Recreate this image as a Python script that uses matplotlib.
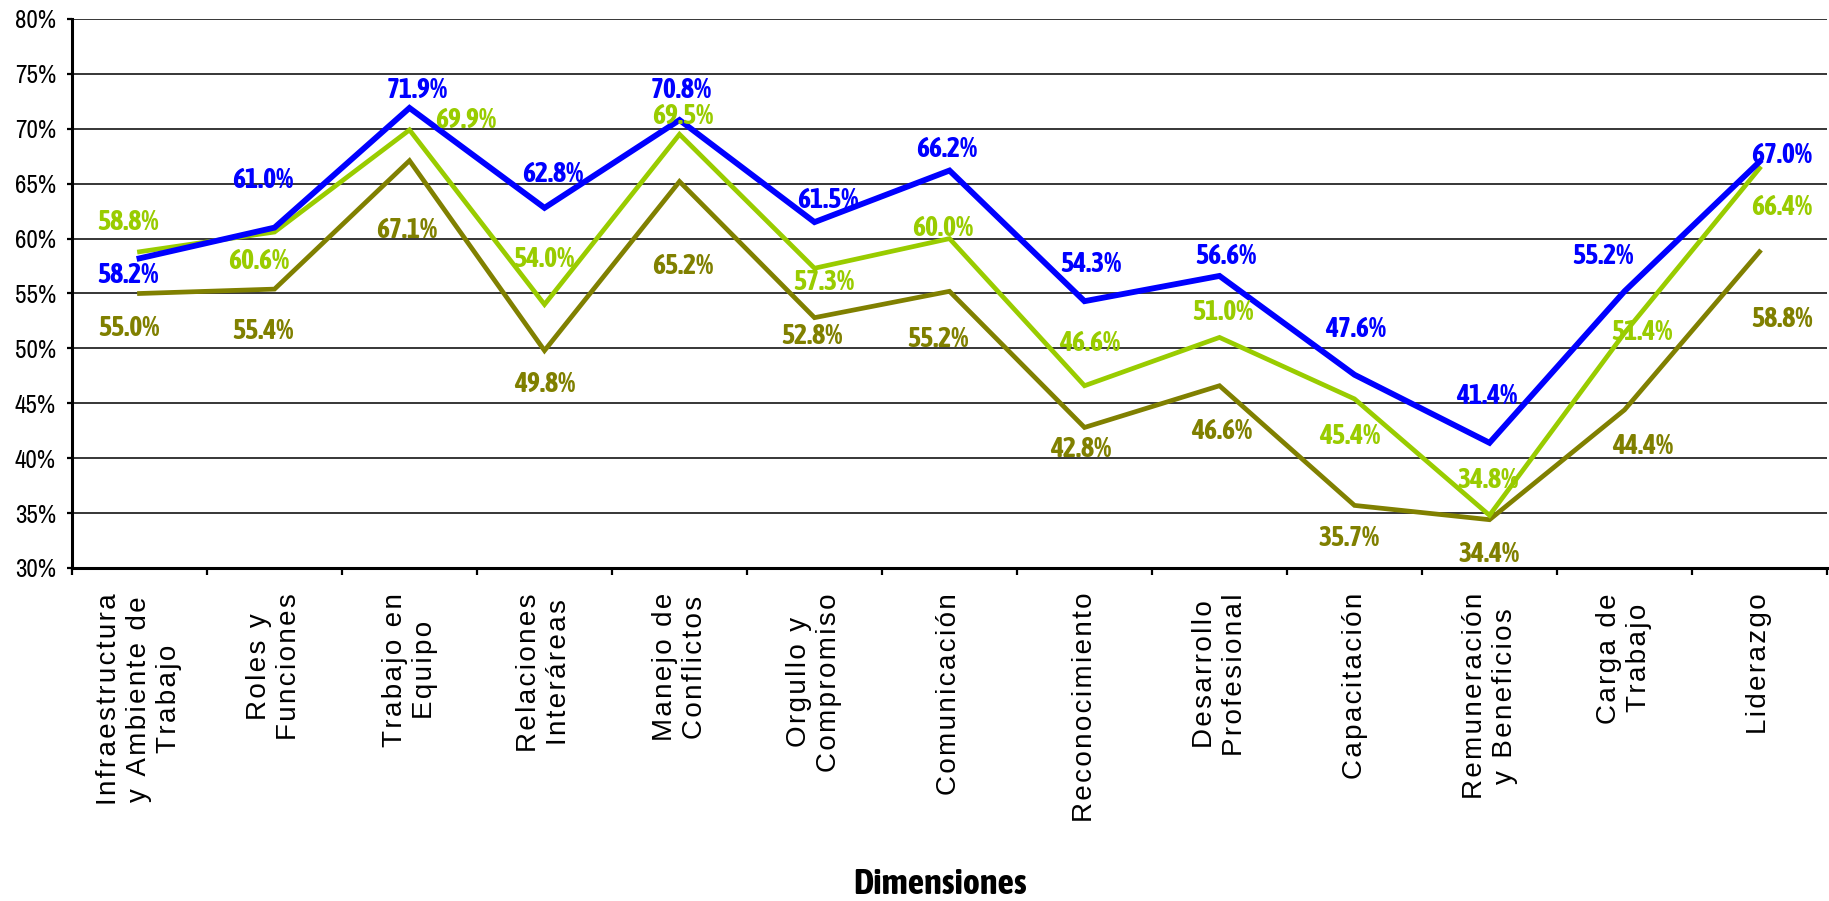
import matplotlib.pyplot as plt
from matplotlib import font_manager
from matplotlib.ticker import MultipleLocator, FixedLocator, PercentFormatter

# categorias y valores (%)
dimensiones = ['Infraestructura\ny Ambiente de\nTrabajo', 'Roles y\nFunciones',
               'Trabajo en\nEquipo', 'Relaciones\nInteráreas', 'Manejo de\nConflictos',
               'Orgullo y\nCompromiso', 'Comunicación', 'Reconocimiento',
               'Desarrollo\nProfesional', 'Capacitación', 'Remuneración\ny Beneficios',
               'Carga de\nTrabajo', 'Liderazgo']

serie_azul = [58.2, 61.0, 71.9, 62.8, 70.8, 61.5, 66.2, 54.3, 56.6, 47.6, 41.4, 55.2, 67.0]
serie_verde = [58.8, 60.6, 69.9, 54.0, 69.5, 57.3, 60.0, 46.6, 51.0, 45.4, 34.8, 51.4, 66.4]
serie_oliva = [55.0, 55.4, 67.1, 49.8, 65.2, 52.8, 55.2, 42.8, 46.6, 35.7, 34.4, 44.4, 58.8]

# desplazamiento de etiquetas (pixeles, centro del texto respecto al punto)
off_azul = [(-12, -15), (-12, 50), (8, 20), (8, 36), (2, 32), (13, 24), (-3, 24),
            (6, 39), (6, 22), (1, 48), (-3, 49), (-22, 37), (22, 9)]
off_verde = [(-11, 32), (-16, -27), (56, 12), (-1, 47), (3, 20), (9, -12), (-7, 13),
             (5, 45), (3, 27), (-5, -35), (-1, 37), (17, 3), (22, -37)]
off_oliva = [(-11, -33), (-12, -40), (-3, -67), (0, -31), (3, -82), (-3, -16), (-12, -46),
             (-4, -20), (2, -43), (-5, -31), (0, -32), (18, -34), (22, -65)]


# fuentes estrechas instaladas (normal y negrita)
def peso(f):
    w = f.weight
    return w if isinstance(w, int) else font_manager.weight_dict.get(w, 400)


fuentes = font_manager.fontManager.ttflist
estrechas = [f for f in fuentes if 'Narrow' in f.name or 'Condensed' in f.name]
normales = sorted({f.name for f in estrechas if peso(f) < 600})
negritas = sorted({f.name for f in estrechas if peso(f) >= 600})
for lista in (normales, negritas):
    if 'Liberation Sans Narrow' in lista:
        lista.remove('Liberation Sans Narrow')
        lista.insert(0, 'Liberation Sans Narrow')

narrow = [normales[0], 'Liberation Sans'] if normales else ['Liberation Sans']
fs_y = 18 if normales else 14
if negritas:
    narrow_b = [negritas[0], 'Liberation Sans']
    fs_dato, fs_tit = 20, 26
else:
    narrow_b = ['Liberation Sans']
    fs_dato, fs_tit = 17, 22

fig = plt.figure(figsize=(18.29, 9.01), dpi=100)
ax = fig.add_axes([72 / 1829, 1 - 568 / 901, (1827 - 72) / 1829, (568 - 19) / 901])

x = list(range(len(dimensiones)))
ax.set_xlim(-0.5, len(dimensiones) - 0.5)
ax.set_ylim(30, 80)

series = [(serie_oliva, '#808000', 3.4, off_oliva),
          (serie_verde, '#99CC00', 3.4, off_verde),
          (serie_azul, '#0000FF', 4.2, off_azul)]
cap = 0.36 * fs_dato * 100 / 72
for vals, col, lw, offs in series:
    ax.plot(x, vals, color=col, lw=lw, solid_joinstyle='miter', zorder=3)
for vals, col, lw, offs in series:
    for xi, v, (dx, dy) in zip(x, vals, offs):
        ax.annotate('%.1f%%' % v, (xi, v), xytext=(dx, dy - cap), textcoords='offset pixels',
                    ha='center', va='baseline', color=col, fontsize=fs_dato,
                    fontweight='bold', family=narrow_b, zorder=4)

ax.yaxis.set_major_locator(MultipleLocator(5))
ax.yaxis.set_major_formatter(PercentFormatter(decimals=0))
ax.grid(axis='y', color='black', lw=1.1, zorder=1)
gl = ax.get_ygridlines()
gl[-1].set_color('#e3e3e3')
gl[-1].set_linewidth(1.0)
ax.tick_params(axis='y', length=3.6, width=1.6, pad=8, labelsize=fs_y)
for lab in ax.get_yticklabels():
    lab.set_family(narrow)


def espaciar(s):
    # pequeño espaciado entre letras, como en el original
    return '\n'.join('\u200a'.join(linea) for linea in s.split('\n'))


ax.set_xticks(x)
ax.set_xticklabels([espaciar(d) for d in dimensiones], rotation=90, fontsize=20,
                   family=['Liberation Sans', 'DejaVu Sans'], multialignment='center')
ax.xaxis.set_minor_locator(FixedLocator([i - 0.5 for i in range(len(dimensiones) + 1)]))
ax.tick_params(axis='x', which='major', length=0, pad=18)
ax.tick_params(axis='x', which='minor', length=5, width=1.6, direction='out')

for s in ['top', 'right']:
    ax.spines[s].set_visible(False)
ax.spines['left'].set_linewidth(2.2)
ax.spines['bottom'].set_linewidth(2.2)

ax.set_xlabel('Dimensiones', fontsize=fs_tit, fontweight='bold', family=narrow_b)
ax.xaxis.set_label_coords((940 - 72) / (1827 - 72), -(884 - 568) / (568 - 19))
ax.xaxis.label.set_va('center')

fig.savefig('out.png', dpi=100)
